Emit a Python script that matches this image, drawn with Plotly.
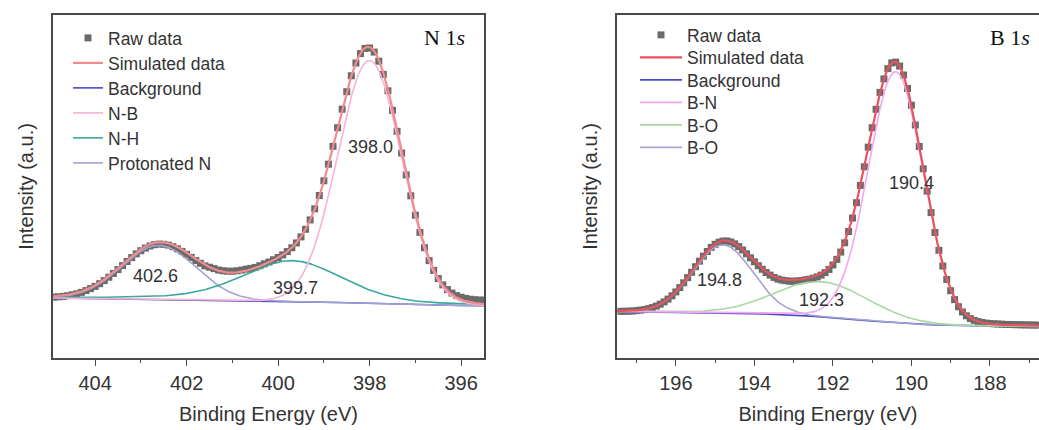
import numpy as np
import plotly.graph_objects as go

# ---------------- N 1s panel data ----------------
n_raw_start = 404.9          # eV, first raw point
n_raw_step = 0.1             # eV, acquisition step
n_raw = [58.9, 59.2, 59.6, 60.3, 61.2, 62.2, 63.6, 65.4, 67.4, 69.6,
         72.3, 75.4, 78.8, 82.6, 86.4, 90.4, 94.5, 98.4, 102.1, 105.3,
         107.9, 110.0, 111.3, 111.9, 111.7, 110.9, 109.3, 107.2, 104.6, 101.7,
         98.6, 95.5, 92.7, 90.1, 88.8, 87.4, 85.9, 85.2, 84.8, 84.8,
         85.2, 85.9, 86.8, 87.6, 88.6, 90.3, 92.2, 94.0, 96.2, 98.5,
         101.1, 104.4, 108.2, 113.1, 119.1, 126.7, 136.1, 147.2, 160.5, 175.2,
         191.8, 209.7, 228.3, 246.8, 264.3, 280.2, 293.0, 302.4, 307.6, 308.0,
         303.9, 294.8, 281.6, 265.2, 245.7, 224.7, 202.9, 181.1, 160.2, 140.8,
         123.6, 108.3, 95.4, 85.6, 77.4, 71.1, 66.4, 62.9, 60.4, 58.8,
         57.6, 56.8, 56.3, 56.0, 55.8]
n_bg_energy = [405.0, 404.0, 403.0, 402.0, 401.0, 400.0, 399.0, 398.0, 397.0, 396.0, 395.5]
n_bg_values = [58.0, 57.6, 57.0, 56.0, 55.2, 54.6, 54.0, 52.5, 51.0, 50.5, 50.3]
n_peak_names = ["N-B", "N-H", "Protonated N"]
n_peak_centers = [398.0, 399.7, 402.6]
n_peak_heights = [243.0, 41.0, 54.0]
n_peak_fwhm = [1.65, 2.6, 1.9]
n_peak_lorentz = [0.0, 0.35, 0.0]

# ---------------- B 1s panel data ----------------
b_raw_start = 197.4
b_raw_step = 0.1
b_raw = [44.7, 44.7, 44.9, 45.0, 45.4, 45.9, 46.4, 47.3, 48.4, 49.9,
         51.8, 54.1, 56.9, 60.2, 64.1, 68.4, 73.2, 78.4, 83.7, 89.3,
         94.8, 99.8, 104.5, 108.6, 111.7, 113.8, 114.9, 115.0, 114.0, 112.1,
         109.4, 106.0, 102.2, 98.2, 94.2, 90.3, 86.7, 83.5, 80.9, 78.6,
         76.9, 75.9, 75.3, 74.8, 74.8, 75.1, 75.4, 76.2, 76.8, 77.8,
         79.1, 80.9, 83.4, 86.6, 91.0, 96.6, 103.9, 113.2, 124.5, 138.0,
         153.3, 170.6, 189.2, 208.8, 228.3, 246.7, 263.6, 277.1, 287.4, 293.1,
         293.9, 289.9, 281.0, 267.5, 250.8, 231.0, 209.5, 187.2, 164.9, 143.4,
         123.5, 105.7, 90.0, 76.5, 65.3, 56.4, 49.3, 44.0, 40.2, 37.4,
         35.6, 34.4, 33.5, 32.9, 32.5, 32.2, 32.0, 31.8, 31.6, 31.5,
         31.4, 31.3, 31.2, 31.1, 31.0, 31.0, 30.9]
b_bg_energy = [197.5, 197.0, 196.0, 195.0, 194.0, 193.0, 192.0, 191.0, 190.0, 189.0, 188.0, 187.0, 186.7]
b_bg_values = [44.5, 44.3, 44.0, 43.3, 42.3, 41.0, 38.5, 35.0, 32.0, 30.5, 30.0, 29.7, 29.6]
b_peak_names = ["B-N", "B-O", "B-O"]
b_peak_centers = [190.4, 192.3, 194.8]
b_peak_heights = [251.0, 35.0, 68.0]
b_peak_fwhm = [1.65, 2.8, 1.8]
b_peak_lorentz = [0.05, 0.0, 0.0]

# tick values
n_ticks = [404, 402, 400, 398, 396]
b_ticks = [196, 194, 192, 190, 188]

# ---------------- helpers ----------------
def pvoigt(e, c, h, fwhm, m):
    s = fwhm / 2.3548
    g = np.exp(-(e - c) ** 2 / (2 * s * s))
    lor = 1.0 / (1.0 + 4.0 * ((e - c) / fwhm) ** 2)
    return h * ((1 - m) * g + m * lor)

def bg_on(e, be, bv):
    be = np.asarray(be)[::-1]
    bv = np.asarray(bv)[::-1]
    return np.interp(e, be, bv)

FONT = "Liberation Sans, Arial, sans-serif"
W, H = 1039, 430

fig = go.Figure()

panels = [
    dict(xa="x", ya="y", raw=n_raw, start=n_raw_start, step=n_raw_step,
         bge=n_bg_energy, bgv=n_bg_values, names=n_peak_names, cen=n_peak_centers,
         hei=n_peak_heights, fw=n_peak_fwhm, lz=n_peak_lorentz, rng=(404.92, 395.5),
         sim_col="#f28b8e", bg_col="#4b4bc8",
         comp_cols=["#f7b3d6", "#3aa89d", "#a4a2d2"]),
    dict(xa="x2", ya="y2", raw=b_raw, start=b_raw_start, step=b_raw_step,
         bge=b_bg_energy, bgv=b_bg_values, names=b_peak_names, cen=b_peak_centers,
         hei=b_peak_heights, fw=b_peak_fwhm, lz=b_peak_lorentz, rng=(197.5, 186.75),
         sim_col="#e6545c", bg_col="#4b4bc8",
         comp_cols=["#f2a8ee", "#a8d7a2", "#a6a4d0"]),
]

legend_id = 1
legend_layout = {}
left_leg = dict(x=68, rows=[38, 63, 88, 113, 138, 163], iw=30)
right_leg = dict(x=635, rows=[35, 57.5, 80, 102.5, 125, 147.5], iw=42)

for p, leg in zip(panels, [left_leg, right_leg]):
    raw = np.asarray(p["raw"])
    e_raw = np.round(p["start"] - p["step"] * np.arange(len(raw)), 2)
    e_fine = np.linspace(p["rng"][0], p["rng"][1], 600)
    bg = bg_on(e_fine, p["bge"], p["bgv"])
    comps = [pvoigt(e_fine, c, h, f, m) for c, h, f, m in zip(p["cen"], p["hei"], p["fw"], p["lz"])]
    sim = bg + np.sum(comps, axis=0)

    raw_tr = go.Scatter(x=e_raw, y=raw, mode="markers", name="Raw data",
                        marker=dict(symbol="square", size=7, color="#6b6b6b"),
                        xaxis=p["xa"], yaxis=p["ya"])
    bg_tr = go.Scatter(x=e_fine, y=bg, mode="lines", name="Background",
                       line=dict(color=p["bg_col"], width=1.6),
                       xaxis=p["xa"], yaxis=p["ya"])
    comp_trs = []
    for name, comp, col in zip(p["names"], comps, p["comp_cols"]):
        comp_trs.append(go.Scatter(x=e_fine, y=bg + comp, mode="lines", name=name,
                                   line=dict(color=col, width=1.6),
                                   xaxis=p["xa"], yaxis=p["ya"]))
    sim_tr = go.Scatter(x=e_fine, y=sim, mode="lines", name="Simulated data",
                        line=dict(color=p["sim_col"], width=2.2),
                        xaxis=p["xa"], yaxis=p["ya"])
    legend_order = [raw_tr, sim_tr, bg_tr] + comp_trs
    draw_order = [raw_tr, bg_tr] + comp_trs[::-1] + [sim_tr]
    for i, tr in enumerate(legend_order):
        key = "legend" if legend_id == 1 else f"legend{legend_id}"
        tr.legend = key
        legend_layout[key] = dict(
            x=leg["x"] / W, y=1 - leg["rows"][i] / H, xanchor="left", yanchor="middle",
            bgcolor="rgba(0,0,0,0)", borderwidth=0, itemwidth=leg["iw"],
            font=dict(family=FONT, size=17.5, color="#333333"),
            tracegroupgap=0, itemclick=False, itemdoubleclick=False)
        legend_id += 1
    for tr in draw_order:
        fig.add_trace(tr)

axis_common = dict(showline=True, linecolor="#4a4a4a", linewidth=1.5, showgrid=False,
                   zeroline=False)
xcommon = dict(axis_common, mirror=True, ticks="outside", ticklen=6, tickwidth=1.3,
               tickcolor="#4a4a4a", tickfont=dict(family=FONT, size=20, color="#333333"),
               minor=dict(ticks="outside", ticklen=3, tickwidth=1.1, tickcolor="#4a4a4a", dtick=1),
               title=dict(text="Binding Energy (eV)", font=dict(family=FONT, size=20, color="#333333"),
                          standoff=14))
ycommon = dict(axis_common, showticklabels=False, ticks="", range=[-2, 341],
               domain=[72 / H, 415 / H],
               title=dict(text="Intensity (a.u.)", font=dict(family=FONT, size=20, color="#333333"),
                          standoff=12))

fig.update_layout(
    width=W, height=H, margin=dict(l=0, r=0, t=0, b=0),
    paper_bgcolor="white", plot_bgcolor="white",
    showlegend=True,
    xaxis=dict(xcommon, domain=[53 / W, 484 / W], range=list(panels[0]["rng"]),
               tickvals=n_ticks, ticktext=[str(t) for t in n_ticks], anchor="y"),
    yaxis=dict(ycommon, mirror=True, anchor="x"),
    xaxis2=dict(xcommon, domain=[617 / W, 1.0], range=list(panels[1]["rng"]),
                tickvals=b_ticks, ticktext=[str(t) for t in b_ticks], anchor="y2"),
    yaxis2=dict(ycommon, mirror=False, anchor="x2"),
    **legend_layout,
)

# peak labels
lab_font = dict(family=FONT, size=18, color="#333333")
n_label_pos = [(397.97, 209), (399.61, 68), (402.67, 80)]
b_label_pos = [(190.0, 173), (192.28, 56), (194.88, 76)]
for c, (lx, ly) in zip(n_peak_centers, n_label_pos):
    fig.add_annotation(x=lx, y=ly, xref="x", yref="y", text=f"{c:.1f}", showarrow=False, font=lab_font)
for c, (lx, ly) in zip(b_peak_centers, b_label_pos):
    fig.add_annotation(x=lx, y=ly, xref="x2", yref="y2", text=f"{c:.1f}", showarrow=False, font=lab_font)

# panel titles
tfont = dict(family="Liberation Serif, Times New Roman, serif", size=22, color="#111111")
fig.add_annotation(x=444 / W, y=1 - 38 / H, xref="paper", yref="paper", text="N 1<i>s</i>",
                   showarrow=False, font=tfont, xanchor="center", yanchor="middle")
fig.add_annotation(x=1010 / W, y=1 - 38 / H, xref="paper", yref="paper", text="B 1<i>s</i>",
                   showarrow=False, font=tfont, xanchor="center", yanchor="middle")

fig.write_html("out.html")
